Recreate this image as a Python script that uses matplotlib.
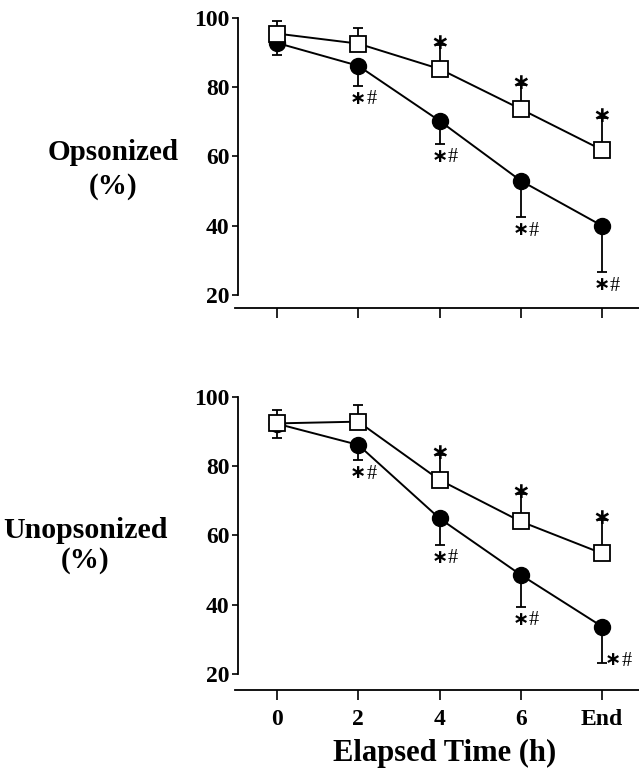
import matplotlib
matplotlib.use("Agg")
import matplotlib.pyplot as plt
import numpy as np

plt.rcParams['font.family'] = ['Liberation Serif', 'DejaVu Serif']
plt.rcParams['font.weight'] = 'bold'

# ---- data ----
time_labels = ["0", "2", "4", "6", "End"]

ops_square = [95.5, 92.6, 85.3, 73.7, 61.9]
ops_square_err_up = [3.7, 4.5, 7.0, 7.0, 9.2]
ops_circle = [92.8, 86.2, 70.3, 53.0, 40.0]
ops_circle_err_down = [3.6, 5.7, 6.7, 10.6, 13.5]

unops_square = [92.3, 92.8, 76.0, 64.0, 54.8]
unops_square_err_up = [3.9, 4.8, 7.2, 7.9, 9.6]
unops_square_err_down = [4.3, 0.0, 0.0, 0.0, 0.0]
unops_circle = [92.2, 86.1, 64.9, 48.6, 33.7]
unops_circle_err_down = [0.0, 4.4, 7.7, 9.2, 10.6]

ops_sq_sig = [False, False, True, True, True]
ops_ci_sig = [False, True, True, True, True]
unops_sq_sig = [False, False, True, True, True]
unops_ci_sig = [False, True, True, True, True]

yticks = [20, 40, 60, 80, 100]

W, H = 639, 770
fig = plt.figure(figsize=(W / 100, H / 100), dpi=100)

x = np.arange(len(time_labels))

STAR = "\u2217"


def make_axes(top_px, bottom_px, ylim, spine_y):
    left_px, right_px = 232.3, 639
    ax = fig.add_axes([left_px / W, 1 - bottom_px / H,
                       (right_px - left_px) / W, (bottom_px - top_px) / H])
    ax.set_xlim(-0.55, 4.455)
    ax.set_ylim(*ylim)
    for s in ['top', 'right']:
        ax.spines[s].set_visible(False)
    ax.spines['left'].set_position(('data', -0.48))
    ax.spines['left'].set_bounds(20, 100)
    ax.spines['bottom'].set_position(('data', spine_y))
    ax.spines['bottom'].set_bounds(-0.52, 4.455)
    for s in ['left', 'bottom']:
        ax.spines[s].set_linewidth(1.3)
    ax.set_yticks(yticks)
    ax.set_xticks(x)
    ax.tick_params(axis='y', direction='out', length=4, width=1.2,
                   labelsize=17, pad=2)
    ax.tick_params(axis='x', direction='out', length=7, width=1.2,
                   labelsize=17, pad=7)
    ax.patch.set_visible(False)
    return ax


def sig_pair(ax, xy, dx, dy):
    ax.annotate(STAR, xy, xytext=(dx, dy), textcoords='offset points',
                ha='center', va='center', fontsize=14, fontweight='bold',
                family='DejaVu Sans', annotation_clip=False)
    ax.annotate("#", xy, xytext=(dx + 5.8, dy - 1), textcoords='offset points',
                ha='left', va='center', fontsize=14.5, fontweight='normal',
                annotation_clip=False)


def draw(ax, sq, sq_up, sq_down, ci, ci_down, sq_sig, ci_sig, end_right=False):
    ax.errorbar(x, ci, yerr=[ci_down, np.zeros(len(ci))], fmt='none',
                ecolor='black', elinewidth=1.3, capsize=3.5, capthick=1.3,
                clip_on=False, zorder=2)
    ax.plot(x, ci, '-o', color='black', markersize=11.5, linewidth=1.4,
            clip_on=False, zorder=3)
    ax.errorbar(x, sq, yerr=[sq_down, sq_up], fmt='none',
                ecolor='black', elinewidth=1.3, capsize=3.5, capthick=1.3,
                clip_on=False, zorder=4)
    ax.plot(x, sq, '-s', color='black', markerfacecolor='white',
            markeredgecolor='black', markeredgewidth=1.3, markersize=11,
            linewidth=1.4, clip_on=False, zorder=5)
    for i in range(len(x)):
        if sq_sig[i]:
            ax.annotate(STAR, (x[i], sq[i] + sq_up[i]),
                        xytext=(0, 1.5), textcoords='offset points',
                        ha='center', va='center', fontsize=16,
                        fontweight='bold', family='DejaVu Sans',
                        annotation_clip=False)
        if ci_sig[i]:
            xy = (x[i], ci[i] - ci_down[i])
            if end_right and i == len(x) - 1:
                sig_pair(ax, xy, 8, 2.5)
            else:
                sig_pair(ax, xy, 0, -9)


ax1 = make_axes(18, 312.3, (15, 100), 16.24)
ax1.set_xticklabels([])
draw(ax1, ops_square, ops_square_err_up, [0] * 5, ops_circle,
     ops_circle_err_down, ops_sq_sig, ops_ci_sig)

ax2 = make_axes(396.7, 694.8, (14, 100), 15.4)
ax2.set_xticklabels(time_labels)
draw(ax2, unops_square, unops_square_err_up, unops_square_err_down,
     unops_circle, unops_circle_err_down, unops_sq_sig, unops_ci_sig,
     end_right=True)

fig.text(113 / W, 1 - 152 / H, "Opsonized", ha='center', va='center',
         fontsize=21, fontweight='bold')
fig.text(113 / W, 1 - 186 / H, "(%)", ha='center', va='center',
         fontsize=21, fontweight='bold')
fig.text(85 / W, 1 - 531 / H, "Unopsonized", ha='center', va='center',
         fontsize=21.5, fontweight='bold')
fig.text(85 / W, 1 - 560 / H, "(%)", ha='center', va='center',
         fontsize=21, fontweight='bold')
fig.text(445 / W, 1 - 753 / H, "Elapsed Time (h)", ha='center', va='center',
         fontsize=22, fontweight='bold')

fig.savefig("out.png", dpi=100)
